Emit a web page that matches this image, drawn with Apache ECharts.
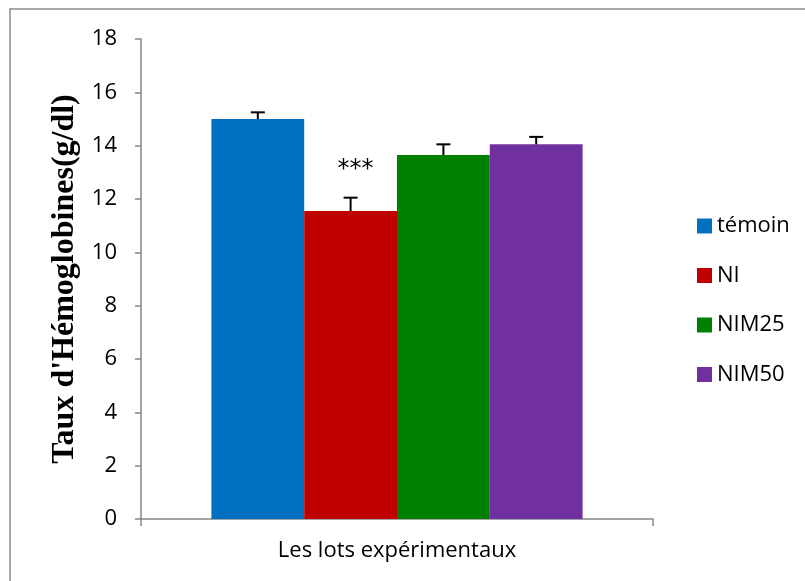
<!DOCTYPE html>
<html>
<head>
<meta charset="utf-8">
<script src="https://cdn.jsdelivr.net/npm/echarts@6/dist/echarts.min.js"></script>
<style>
    html, body { margin: 0; padding: 0; background: #fff; }
    #chart { width: 805px; height: 581px; }
</style>
</head>
<body>
<div id="chart"></div>
<script>
var groups = ["témoin", "NI", "NIM25", "NIM50"];
var colors = ["#0070c0", "#c00000", "#008000", "#7030a0"];
var means = [15.0, 11.55, 13.65, 14.05];
var errors = [0.25, 0.5, 0.4, 0.28];
var stars = ["", "***", "", ""];
var category = ["Les lots expérimentaux"];
var yTicks = [0, 2, 4, 6, 8, 10, 12, 14, 16, 18];

var gapRatio = 0.275;

var chart = echarts.init(document.getElementById("chart"));

var series = [];
groups.forEach(function(name, i) {
    series.push({
        name: name,
        type: "bar",
        data: [means[i]],
        itemStyle: { color: colors[i] },
        barGap: "0%",
        barCategoryGap: (gapRatio * 100) + "%"
    });
});

// error bars (upper half only) + significance stars
series.push({
    type: "custom",
    name: "err",
    silent: true,
    z: 5,
    data: groups.map(function(g, i) { return [0, means[i], errors[i], i]; }),
    renderItem: function(params, api) {
        var idx = api.value(3);
        var band = api.size([1, 0])[0];
        var barW = band * (1 - gapRatio) / groups.length;
        var center = api.coord([0, 0])[0];
        var x = center - barW * groups.length / 2 + (idx + 0.5) * barW;
        var yTop = api.coord([0, api.value(1)])[1];
        var yCap = api.coord([0, api.value(1) + api.value(2)])[1];
        var st = { stroke: "#000", lineWidth: 2 };
        var children = [
            { type: "line", shape: { x1: x, y1: yTop, x2: x, y2: yCap }, style: st },
            { type: "line", shape: { x1: x - 7, y1: yCap, x2: x + 7, y2: yCap }, style: st }
        ];
        if (stars[idx]) {
            children.push({
                type: "text",
                style: {
                    text: stars[idx],
                    x: x + 5, y: yCap - 28,
                    align: "center", verticalAlign: "middle",
                    font: "24px 'DejaVu Sans'", fill: "#000"
                }
            });
        }
        return { type: "group", children: children };
    }
});

var option = {
    animation: false,
    graphic: [{
        type: "rect",
        shape: { x: 10, y: 9, width: 820, height: 600 },
        style: { fill: "none", stroke: "#8a8a8a", lineWidth: 1.5 },
        silent: true
    }],
    legend: {
        data: groups,
        orient: "vertical",
        left: 692,
        top: 210,
        itemWidth: 15,
        itemHeight: 15,
        itemGap: 27.5,
        icon: "rect",
        textStyle: { fontFamily: "Open Sans", fontSize: 22, color: "#000" }
    },
    grid: {
        left: 141,
        right: 152,
        top: 39,
        bottom: 62
    },
    xAxis: {
        type: "category",
        data: category,
        axisLine: { lineStyle: { color: "#868686", width: 1.5 } },
        axisTick: { show: true, length: 7, lineStyle: { color: "#868686", width: 1.5 } },
        axisLabel: { fontFamily: "Open Sans", fontSize: 22, color: "#000", margin: 21 }
    },
    yAxis: {
        type: "value",
        min: yTicks[0],
        max: yTicks[yTicks.length - 1],
        interval: 2,
        name: "Taux d'Hémoglobines(g/dl)",
        nameLocation: "middle",
        nameGap: 60,
        nameTextStyle: { fontFamily: "Liberation Serif", fontWeight: "bold", fontSize: 32, color: "#000" },
        axisLine: { show: true, lineStyle: { color: "#868686", width: 1.5 } },
        axisTick: { show: true, length: 6, lineStyle: { color: "#868686", width: 1.5 } },
        splitLine: { show: false },
        axisLabel: { fontFamily: "Open Sans", fontSize: 22, color: "#000", margin: 24 }
    },
    series: series
};

chart.setOption(option);
</script>
</body>
</html>
